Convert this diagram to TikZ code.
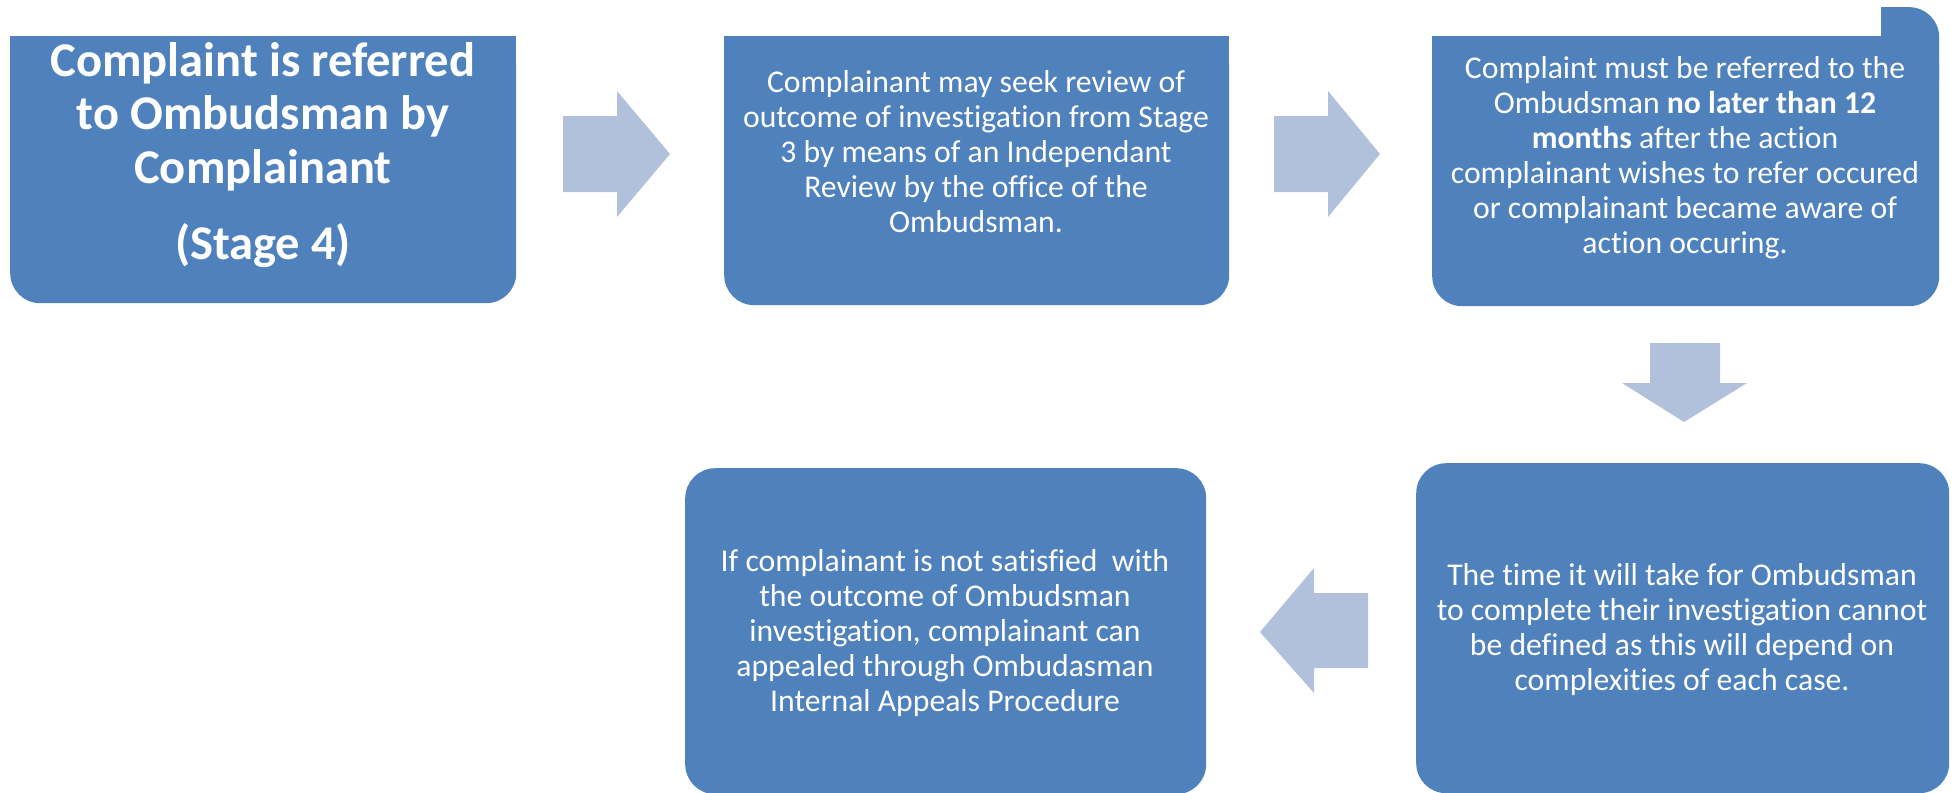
\documentclass[tikz,border=0pt]{standalone}
\usepackage{fontspec}
\setmainfont{Carlito}[Ligatures=NoCommon]
\usepackage{xcolor}
\definecolor{obblue}{RGB}{79,129,189}
\definecolor{obarrow}{RGB}{178,193,219}
\usetikzlibrary{positioning}

\tikzset{
  stagebox/.style={fill=obblue, rounded corners=30pt, inner sep=0pt, anchor=north west},
  stagetext/.style={text=white, align=center, inner sep=0pt, font=\fontsize{31.7}{35}\selectfont},
  blockarrow/.style={fill=obarrow}
}

\begin{document}
\begin{tikzpicture}[x=1pt, y=-1pt]
\useasboundingbox (0,0) rectangle (1953,792);

% === Top row ===
% Stage 4 heading box (square top corners)
\node[stagebox, minimum width=506pt, minimum height=267pt] (box1) at (10,36) {};
\fill[obblue] (box1.north west) rectangle (box1.east);
\node[stagetext, font=\fontsize{48.5}{53.5}\selectfont\bfseries] (txt1) at (263,155)
  {Complaint is referred\\to Ombudsman by\\Complainant\\[23pt](Stage 4)};

% Review box
\node[stagebox, minimum width=505pt, minimum height=269pt] (box2) at (724,36) {};
\fill[obblue] (box2.north west) rectangle (box2.east);
\node[stagetext] (txt2) at (976,152)
  {Complainant may seek review of\\outcome of investigation from Stage\\3 by means of an Independant\\Review by the office of the\\Ombudsman.};

% Time limit box, with tab at top right
\node[stagebox, minimum width=507pt, minimum height=270pt] (box3) at (1432,36) {};
\fill[obblue] (box3.north west) rectangle (box3.east);
\node[stagebox, minimum width=58pt, minimum height=100pt] (tab3) at (1881,7) {};
\fill[obblue] (tab3.north west) rectangle (tab3.south);
\node[stagetext] (txt3) at (1685,158)
  {Complaint must be referred to the\\Ombudsman \textbf{no later than 12}\\\textbf{months} after the action\\complainant wishes to refer occured\\or complainant became aware of\\action occuring.};

% === Bottom row ===
% Investigation box
\node[stagebox, minimum width=533pt, minimum height=330pt] (box5) at (1416,463) {};
\node[stagetext] (txt5) at (1682,630)
  {The time it will take for Ombudsman\\to complete their investigation cannot\\be defined as this will depend on\\complexities of each case.};

% Appeal box
\node[stagebox, minimum width=521pt, minimum height=326pt] (box4) at (685,468) {};
\node[stagetext] (txt4) at (945,633)
  {If complainant is not satisfied\ \ with\\the outcome of Ombudsman\\investigation, complainant can\\appealed through Ombudasman\\Internal Appeals Procedure};

% === Block arrows ===
\fill[blockarrow] (563,116) -- (617,116) -- (617,91) -- (670,154) -- (617,217) -- (617,192) -- (563,192) -- cycle;
\fill[blockarrow] (1274,116) -- (1328,116) -- (1328,91) -- (1380,154) -- (1328,217) -- (1328,192) -- (1274,192) -- cycle;
\fill[blockarrow] (1650,343) -- (1720,343) -- (1720,383) -- (1747,383) -- (1684,422) -- (1622,383) -- (1650,383) -- cycle;
\fill[blockarrow] (1368,593) -- (1314,593) -- (1314,568) -- (1260,632) -- (1314,693) -- (1314,668) -- (1368,668) -- cycle;

\end{tikzpicture}
\end{document}
